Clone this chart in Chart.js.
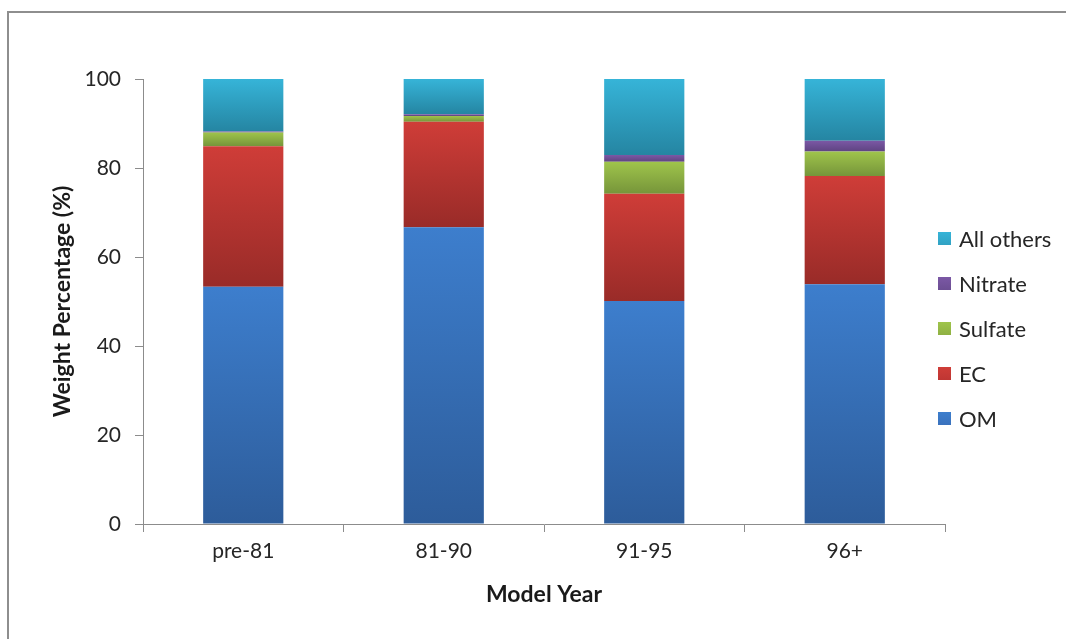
<!DOCTYPE html>
<html>
<head>
<meta charset="utf-8">
<title>Weight Percentage by Model Year</title>
<script src="https://cdn.jsdelivr.net/npm/chart.js@4/dist/chart.umd.min.js"></script>
<style>
  html, body { margin: 0; padding: 0; background: #fff; }
  #wrap { position: relative; width: 1066px; height: 639px; overflow: hidden; background: #fff; }
  #frame { position: absolute; left: 7px; top: 11px; width: 1200px; height: 800px;
           border-top: 2px solid #8e8e8e; border-left: 2px solid #8e8e8e; pointer-events: none; }
  #chart { position: absolute; left: 0; top: 0; }
  #legend { position: absolute; left: 938px; top: 216px; margin: 0; padding: 0; list-style: none;
            font-family: Lato, "Open Sans", sans-serif; font-size: 22px; color: #262626; }
  #legend li { height: 45px; display: flex; align-items: center; white-space: nowrap; }
  #legend .sw { width: 13px; height: 13px; margin-right: 8px; flex: none; }
</style>
</head>
<body>
<div id="wrap">
  <div id="frame"></div>
  <canvas id="chart" width="1066" height="639"></canvas>
  <ul id="legend"></ul>
</div>
<script>
// Model-year groups and the weight share (%) of each component
const categories = ['pre-81', '81-90', '91-95', '96+'];
const om        = [53.3, 66.7, 50.1, 53.9];
const ec        = [31.6, 23.7, 24.1, 24.3];
const sulfate   = [3.1, 1.3, 7.2, 5.5];
const nitrate   = [0.2, 0.4, 1.5, 2.4];
const allOthers = [11.8, 7.9, 17.1, 13.9];
const yTicks    = [0, 20, 40, 60, 80, 100];

const seriesNames  = ['OM', 'EC', 'Sulfate', 'Nitrate', 'All others'];
const seriesValues = [om, ec, sulfate, nitrate, allOthers];
// light (top) and dark (bottom) shade of each stacked segment
const seriesTop    = ['#3d7ecd', '#cf3d38', '#9fc44b', '#7b58a5', '#36b4d8'];
const seriesBottom = ['#2d5c9a', '#992b28', '#76953a', '#5e4381', '#2585a2'];
const seriesSwatch = ['#3a72bd', '#bf3633', '#8fb143', '#6c4e93', '#31a2c3'];

const FONT = 'Lato, "Open Sans", sans-serif';
const TEXT = '#262626';
const AXIS = '#8c8c8c';

// vertical gradient spanning one stacked segment
function segmentFill(idx) {
  return (ctx) => {
    const chart = ctx.chart;
    if (!chart.chartArea || ctx.type !== 'data') return seriesTop[idx];
    const y = chart.scales.y;
    let start = 0;
    for (let k = 0; k < idx; k++) start += seriesValues[k][ctx.dataIndex];
    const end = start + seriesValues[idx][ctx.dataIndex];
    const y0 = y.getPixelForValue(end);
    const y1 = y.getPixelForValue(start);
    if (!isFinite(y0) || !isFinite(y1) || y0 === y1) return seriesTop[idx];
    const g = chart.ctx.createLinearGradient(0, y0, 0, y1);
    g.addColorStop(0, seriesTop[idx]);
    g.addColorStop(1, seriesBottom[idx]);
    return g;
  };
}

const datasets = seriesNames.map((name, i) => ({
  label: name,
  data: seriesValues[i],
  backgroundColor: segmentFill(i),
  borderWidth: 0,
  barPercentage: 0.4,
  categoryPercentage: 1.0
}));

const chart = new Chart(document.getElementById('chart'), {
  type: 'bar',
  data: { labels: categories, datasets },
  options: {
    responsive: false,
    animation: false,
    layout: { padding: { top: 79, right: 121, left: 0, bottom: 0 } },
    plugins: { legend: { display: false }, tooltip: { enabled: false } },
    scales: {
      x: {
        stacked: true,
        grid: { offset: true, drawOnChartArea: false, drawTicks: true, tickLength: 8, color: AXIS },
        border: { color: AXIS, width: 1 },
        ticks: { font: { family: FONT, size: 21 }, color: TEXT, padding: 7 },
        title: { display: true, text: 'Model Year', color: '#1a1a1a',
                 font: { family: FONT, size: 23, weight: 'bold' }, padding: { top: 0, bottom: 31 } },
        afterFit: (s) => { s.height = 115; }
      },
      y: {
        stacked: true,
        min: 0, max: 100,
        afterBuildTicks: (s) => { s.ticks = yTicks.map(v => ({ value: v })); },
        grid: { drawOnChartArea: false, drawTicks: true, tickLength: 8, color: AXIS },
        border: { color: AXIS, width: 1 },
        ticks: { font: { family: FONT, size: 21 }, color: TEXT, padding: 14 },
        title: { display: true, text: 'Weight Percentage (%)', color: '#1a1a1a',
                 font: { family: FONT, size: 23, weight: 'bold' }, padding: { top: 49, bottom: 0 } },
        afterFit: (s) => { s.width = 143; }
      }
    }
  }
});

// legend list, top entry first (reverse of stacking order)
const legend = document.getElementById('legend');
chart.data.datasets.map((d, i) => i).reverse().forEach((i) => {
  const li = document.createElement('li');
  const sw = document.createElement('span');
  sw.className = 'sw';
  sw.style.background = 'linear-gradient(' + seriesTop[i] + ',' + seriesSwatch[i] + ')';
  li.appendChild(sw);
  li.appendChild(document.createTextNode(chart.data.datasets[i].label));
  legend.appendChild(li);
});
</script>
</body>
</html>
